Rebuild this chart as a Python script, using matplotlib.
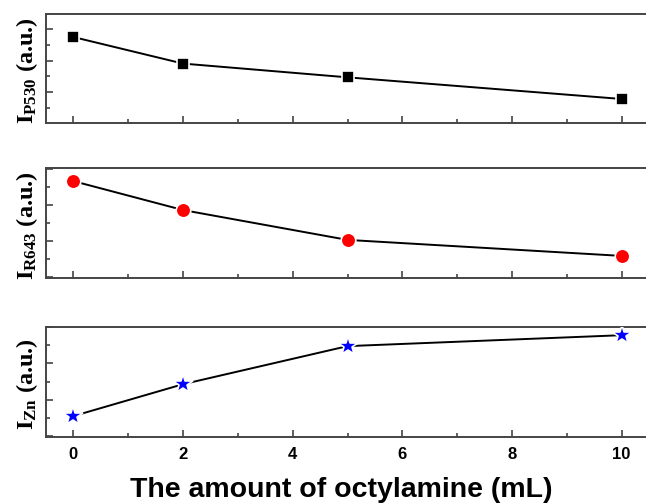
import matplotlib
matplotlib.use("Agg")
import matplotlib.pyplot as plt
from matplotlib.ticker import MultipleLocator, NullFormatter

plt.rcParams['mathtext.fontset'] = 'custom'
plt.rcParams['mathtext.rm'] = 'Liberation Serif:bold'
plt.rcParams['mathtext.bf'] = 'Liberation Serif:bold'
plt.rcParams['mathtext.it'] = 'Liberation Serif:bold'

octylamine = [0, 2, 5, 10]
i_p530 = [5.49, 3.81, 2.94, 1.57]
i_r643 = [5.33, 3.72, 2.06, 1.17]
i_zn = [1.11, 2.86, 4.95, 5.55]

panels = [
    (i_p530, 's', 'black', 9, r'$\mathbf{I_{P530}}$ (a.u.)', (0.05, 6.95)),
    (i_r643, 'o', 'red', 10.5, r'$\mathbf{I_{R643}}$ (a.u.)', (-0.06, 6.06)),
    (i_zn, '*', 'blue', 15, r'$\mathbf{I_{Zn}}$ (a.u.)', (-0.04, 6.0)),
]

fig = plt.figure(figsize=(6.46, 5.03), dpi=100)
left, width = 46 / 646, 603 / 646
rows = [(0.7555, 0.2167), (0.4473, 0.2187), (0.1312, 0.2187)]

spine_col = '#444444'
for k, ((vals, mk, col, ms, lab, ylim), (b, h)) in enumerate(zip(panels, rows)):
    ax = fig.add_axes([left, b, width, h])
    ax.plot(octylamine, vals, color='black', lw=1.4, marker=mk, ms=ms,
            mfc=col, mec='white', mew=1.2, zorder=3)
    ax.set_xlim(-0.5, 10.5)
    ax.set_ylim(*ylim)
    ax.xaxis.set_major_locator(MultipleLocator(2))
    ax.xaxis.set_minor_locator(MultipleLocator(1))
    ax.yaxis.set_major_locator(MultipleLocator(2))
    ax.yaxis.set_minor_locator(MultipleLocator(1))
    ax.yaxis.set_major_formatter(NullFormatter())
    ax.tick_params(which='both', direction='in', top=False, right=False,
                   color=spine_col, width=1.2)
    ax.tick_params(which='major', length=5)
    ax.tick_params(which='minor', length=3)
    for s in ax.spines.values():
        s.set_color(spine_col)
        s.set_linewidth(1.4)
    ax.set_ylabel(lab, fontsize=17.5, fontfamily='Liberation Serif',
                  fontweight='bold')
    ax.yaxis.set_label_coords(-0.01, 0.48)
    if k < 2:
        ax.xaxis.set_major_formatter(NullFormatter())
    else:
        for t in ax.get_xticklabels():
            t.set_fontfamily('Liberation Sans')
            t.set_fontweight('bold')
            t.set_fontsize(12)
        ax.tick_params(axis='x', pad=7)
        ax.set_xlabel('The amount of octylamine (mL)', fontsize=20.5,
                      fontfamily='Liberation Sans', fontweight='bold')
        ax.xaxis.set_label_coords(0.49, -0.365)

fig.savefig('out.png', dpi=100)
